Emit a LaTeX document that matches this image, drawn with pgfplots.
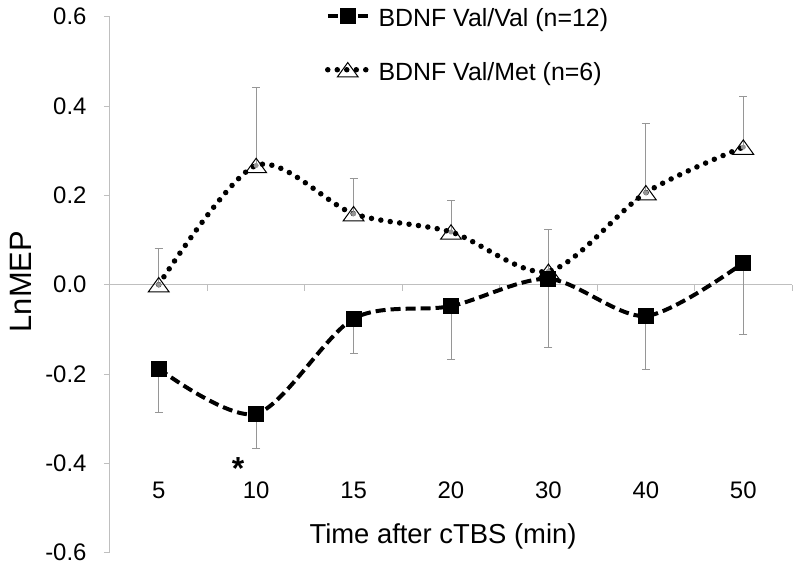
\documentclass[border=0pt]{standalone}
\usepackage{pgfplots}
\pgfplotsset{compat=1.18}
\usepackage{pgfplotstable}
\usepackage{fontspec}
\setmainfont{Liberation Sans}
\definecolor{axgray}{RGB}{191,191,191}
\definecolor{errgray}{RGB}{150,150,150}

\pgfplotstableread{
x valval vvErr valmet vmErr
1 -0.188 0.099 0.000 0.081
2 -0.289 0.078 0.267 0.174
3 -0.076 0.077 0.159 0.078
4 -0.048 0.120 0.118 0.070
5  0.013 0.154 0.030 0.093
6 -0.070 0.120 0.206 0.156
7  0.049 0.160 0.308 0.114
}\data

\pgfplotsset{
  valvalstyle/.style={black, line width=4bp, dash pattern=on 10bp off 5bp, smooth,
    mark=square*, mark size=7.5bp, mark options={solid, line width=0bp, fill=black}},
  valmetstyle/.style={black, line width=5.5bp, dash pattern=on 0bp off 9.5bp, line cap=round, smooth,
    mark=triangle, mark size=12bp, mark options={solid, line width=1bp, line cap=butt, yscale=0.8, yshift=-3bp, fill=none}},
}

\begin{document}
\begin{tikzpicture}
\begin{axis}[
  scale only axis, width=682bp, height=536bp,
  xmin=0.5, xmax=7.5, ymin=-0.6, ymax=0.6,
  axis x line=middle, axis y line=left,
  axis line style={axgray, line width=1bp, -},
  hide obscured x ticks=false, hide obscured y ticks=false,
  xtick={1,...,7}, xticklabels={5,10,15,20,30,40,50},
  minor xtick={0.5,1.5,...,7.5},
  every major x tick/.append style={draw=none},
  every minor x tick/.append style={axgray, line width=1bp},
  minor tick length=6bp, major tick length=6bp,
  xtick align=outside, ytick align=outside,
  ytick={-0.6,-0.4,-0.2,0,0.2,0.4,0.6},
  every major y tick/.append style={axgray, line width=1bp},
  tick label style={font=\fontsize{24}{28}\selectfont},
  /pgf/number format/assume math mode=true,
  yticklabel style={/pgf/number format/.cd, fixed, fixed zerofill, precision=1, /tikz/.cd, xshift=-14bp},
  xticklabel style={anchor=center, yshift=-200bp},
  xlabel={Time after cTBS (min)},
  xlabel style={font=\fontsize{27.5}{32}\selectfont, at={(axis description cs:0.4883,0.0181)}, anchor=base},
  ylabel={LnMEP},
  ylabel style={font=\fontsize{31}{36}\selectfont, at={(axis description cs:-0.1310,0.5056)}, anchor=center, rotate=0},
  legend cell align=left,
  legend style={draw=none, fill=none, inner sep=0pt, nodes={inner sep=0pt}, column sep=8bp, row sep=34.7bp,
    font=\fontsize{25}{29}\selectfont,
    at={(axis description cs:0.3150,1.0166)}, anchor=north west},
  legend image code/.code={\draw[#1, mark repeat=2, mark phase=2] plot coordinates {(0bp,2.4bp)(20bp,2.4bp)(40bp,2.4bp)};},
]
\coordinate (BL) at (rel axis cs:0,0);
\addplot[errgray, line width=1bp, only marks, mark=none, forget plot,
  error bars/.cd, y dir=plus, y explicit, error mark=|,
  error bar style={errgray, line width=1bp},
  error mark options={errgray, line width=1bp, mark size=4bp}]
  table[x=x, y=valmet, y error=vmErr] {\data};
\addplot[errgray, line width=1bp, only marks, mark=none, forget plot,
  error bars/.cd, y dir=minus, y explicit, error mark=|,
  error bar style={errgray, line width=1bp},
  error mark options={errgray, line width=1bp, mark size=4bp}]
  table[x=x, y=valval, y error=vvErr] {\data};
\addplot[valmetstyle, forget plot] table[x=x, y=valmet] {\data};
\addplot[valvalstyle] table[x=x, y=valval] {\data};
\addlegendentry{BDNF Val/Val (n=12)}
\addlegendimage{valmetstyle}
\addlegendentry{BDNF Val/Met (n=6)}
\node[anchor=base, font=\fontsize{32}{36}\selectfont\bfseries] at (axis cs:1.814,-0.436) {*};
\end{axis}
\pgfresetboundingbox
\useasboundingbox ([xshift=-110bp, yshift=-16.3bp]BL) rectangle ++(800bp,569bp);
\end{tikzpicture}
\end{document}
